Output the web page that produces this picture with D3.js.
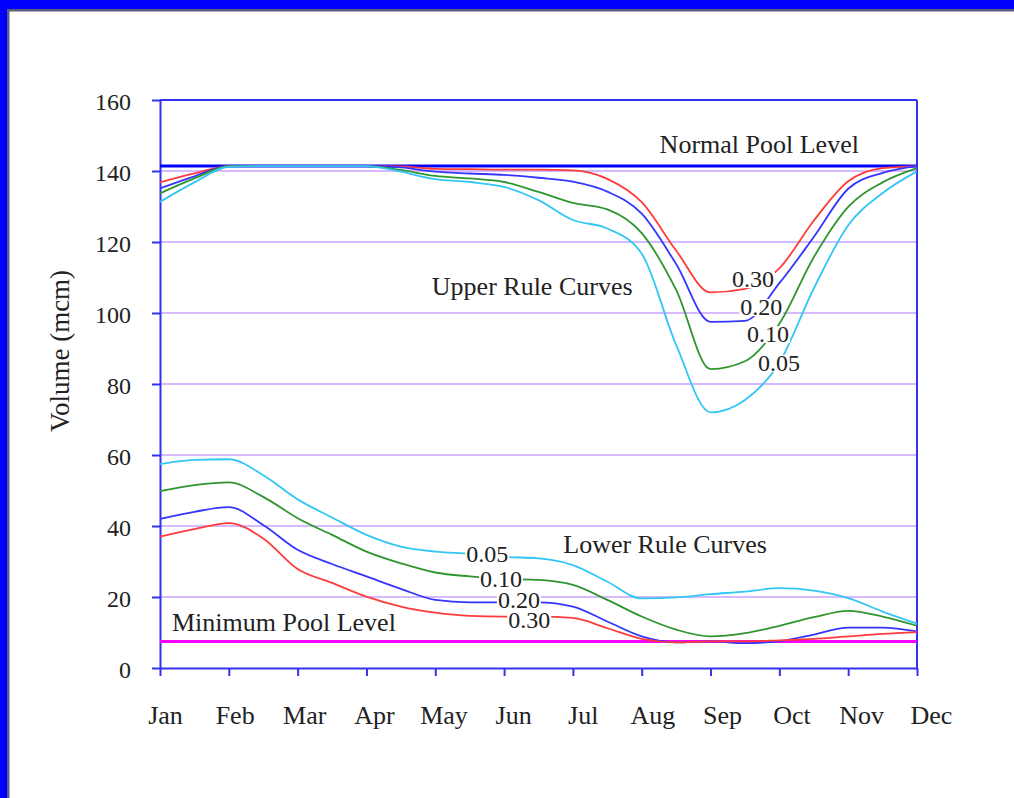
<!DOCTYPE html>
<html>
<head>
<meta charset="utf-8">
<script src="https://cdn.jsdelivr.net/npm/d3@7"></script>
<style>
  body { margin: 0; background: #fff; overflow: hidden; }
  svg { display: block; }
  text { font-family: "Liberation Serif", "Times New Roman", serif; fill: #222; }
</style>
</head>
<body>
<div id="chart"></div>
<script>
// rule curve data (volume in mcm), sampled every half month
const months = ["Jan", "Feb", "Mar", "Apr", "May", "Jun", "Jul", "Aug", "Sep", "Oct", "Nov", "Dec"];
const steps = [0, 0.5, 1, 1.5, 2, 2.5, 3, 3.5, 4, 4.5, 5, 5.5, 6, 6.5, 7, 7.5, 8, 8.5, 9, 9.5, 10, 10.5, 11];
const yTicks = [0, 20, 40, 60, 80, 100, 120, 140, 160];

const normalPool = 141.4;
const minPool = 7.5;

// upper rule curves
const upper030 = [136.8, 139.3, 141.4, 141.4, 141.4, 141.4, 141.4, 141.3, 140.6, 140.5, 140.4, 140.4, 140.2, 137.8, 131.2, 117.6, 105.8, 106.8, 112.6, 126, 137.1, 140.8, 141.4];
const upper020 = [135.1, 138.5, 141.4, 141.4, 141.4, 141.4, 141.4, 141, 139.8, 139.3, 138.9, 138.1, 137, 134.2, 128, 113.8, 97.5, 97.8, 108.4, 121.4, 135, 139.5, 141.4];
const upper010 = [133.7, 137.9, 141.4, 141.4, 141.4, 141.4, 141.4, 140.3, 138.6, 137.9, 136.9, 134.1, 131, 129.2, 122.5, 106.5, 84.2, 86.4, 97, 115.7, 129.9, 136.8, 140.8];
const upper005 = [131.3, 136.8, 141.2, 141.4, 141.4, 141.4, 141.4, 139.8, 137.7, 136.9, 135.5, 131.8, 126.2, 123.8, 116.7, 91, 72, 75.5, 86, 106.9, 124.7, 133.8, 139.9];

// lower rule curves
const lower005 = [57.4, 58.6, 58.8, 54.3, 47.5, 42.4, 37.5, 34.2, 32.8, 32.2, 31.3, 30.9, 29, 24.3, 19.6, 19.9, 20.8, 21.5, 22.5, 21.8, 19.7, 15.9, 12.5];
const lower010 = [49.8, 51.5, 52.3, 48.2, 42.2, 37.5, 32.8, 29.5, 26.9, 25.8, 25.1, 24.8, 23.4, 19.2, 14.5, 10.8, 8.9, 9.8, 11.9, 14.3, 16.1, 14.5, 11.9];
const lower020 = [42, 44, 45.3, 40.3, 33.3, 29.3, 25.8, 22.3, 19.2, 18.5, 18.5, 18.5, 17.3, 13.1, 8.9, 7.2, 7.5, 7, 7.5, 9.4, 11.4, 11.4, 10.3];
const lower030 = [37, 39.1, 40.8, 36.5, 27.9, 24, 20.1, 17.3, 15.6, 14.7, 14.5, 14.5, 14.1, 11.2, 8.2, 7.2, 7.5, 7.5, 7.8, 8.2, 8.9, 9.6, 10.1];

const series = [
  {values: upper030, color: "#ff3b3b"},
  {values: upper020, color: "#3535ff"},
  {values: upper010, color: "#2f962f"},
  {values: upper005, color: "#33c6f4"},
  {values: lower005, color: "#33c6f4"},
  {values: lower010, color: "#2f962f"},
  {values: lower020, color: "#3535ff"},
  {values: lower030, color: "#ff3b3b"}
];

// labels on the curves: [month position, value at baseline, text]
const upperLabels = [[8.31, 107.3, "0.30"], [8.43, 99.4, "0.20"], [8.53, 91.8, "0.10"], [8.69, 83.7, "0.05"]];
const lowerLabels = [[4.45, 29.9, "0.05"], [4.65, 22.8, "0.10"], [4.91, 16.9, "0.20"], [5.06, 11.3, "0.30"]];

const W = 1014, H = 798;
const margin = {top: 100, right: 97, bottom: 130, left: 160},
    width = W - margin.left - margin.right,
    height = H - margin.top - margin.bottom;

const svg = d3.select("#chart")
  .append("svg")
    .attr("width", W)
    .attr("height", H);

// window frame (top and left only)
svg.append("rect").attr("x", 0).attr("y", 0).attr("width", W).attr("height", 9).attr("fill", "#0000ff");
svg.append("rect").attr("x", 0).attr("y", 0).attr("width", 7).attr("height", H).attr("fill", "#0000ff");
svg.append("rect").attr("x", 7).attr("y", 9).attr("width", W).attr("height", 2.5).attr("fill", "#5c5c7a");
svg.append("rect").attr("x", 7).attr("y", 9).attr("width", 2.5).attr("height", H).attr("fill", "#5c5c7a");

const g = svg.append("g")
  .attr("transform", "translate(" + margin.left + "," + margin.top + ")");

const x = d3.scaleLinear().domain([0, 11]).range([0, width]);
const y = d3.scaleLinear().domain([0, 160]).range([height, 0]);

// gridlines
g.selectAll(".grid")
  .data(yTicks.filter(d => d > 0 && d < 160))
  .enter().append("line")
    .attr("x1", 0).attr("x2", width)
    .attr("y1", d => y(d)).attr("y2", d => y(d))
    .attr("stroke", "#caa2ff")
    .attr("stroke-width", 1.6);

// axes
const axisColor = "#3333ee";
const xAxis = g.append("g")
  .attr("transform", "translate(0," + height + ")")
  .call(d3.axisBottom(x).tickValues(d3.range(12)).tickFormat(i => months[i]).tickSize(8).tickSizeOuter(0));
xAxis.selectAll("text")
  .attr("y", 38)
  .attr("x", (d, i) => 5 + i * 0.8)
  .style("font-size", "26px").style("fill", "#222");

const yAxis = g.append("g")
  .call(d3.axisLeft(y).tickValues(yTicks).tickSize(8).tickSizeOuter(0));
yAxis.selectAll("text").attr("x", -29).attr("dy", "0.4em").style("font-size", "24px").style("fill", "#222");

[xAxis, yAxis].forEach(a => {
  a.selectAll("line, path").attr("stroke", axisColor).attr("stroke-width", 2);
  a.style("font-family", '"Liberation Serif", "Times New Roman", serif');
});

// top and right border of the plot
g.append("line").attr("x1", 0).attr("x2", width).attr("y1", y(160)).attr("y2", y(160))
  .attr("stroke", axisColor).attr("stroke-width", 2);
g.append("line").attr("x1", width).attr("x2", width).attr("y1", 0).attr("y2", height)
  .attr("stroke", axisColor).attr("stroke-width", 2);

// pool levels
g.append("line").attr("x1", 0).attr("x2", width).attr("y1", y(normalPool)).attr("y2", y(normalPool))
  .attr("stroke", "#0000ff").attr("stroke-width", 3);
g.append("line").attr("x1", 0).attr("x2", width).attr("y1", y(minPool)).attr("y2", y(minPool))
  .attr("stroke", "#ff00ff").attr("stroke-width", 3);

// rule curves
const line = d3.line()
  .x((d, i) => x(steps[i]))
  .y(d => y(d))
  .curve(d3.curveMonotoneX);

g.selectAll(".curve")
  .data(series)
  .enter().append("path")
    .attr("d", d => line(d.values))
    .attr("fill", "none")
    .attr("stroke", d => d.color)
    .attr("stroke-width", 1.8);

// curve labels with white background
function curveLabel(p) {
  const t = g.append("text")
    .attr("x", x(p[0]))
    .attr("y", y(p[1]))
    .style("font-size", "24px")
    .text(p[2]);
  const b = t.node().getBBox();
  g.insert("rect", () => t.node())
    .attr("x", b.x - 1).attr("y", b.y + 5)
    .attr("width", b.width + 2).attr("height", b.height - 9)
    .attr("fill", "#fff");
}
upperLabels.forEach(curveLabel);
lowerLabels.forEach(curveLabel);

// text annotations
const notes = [
  [x(7.26), y(normalPool) - 13, "Normal Pool Level"],
  [x(3.95), 195, "Upper Rule Curves"],
  [x(5.86), 453, "Lower Rule Curves"],
  [12, y(minPool) - 10, "Minimum Pool Level"]
];
notes.forEach(n => {
  g.append("text").attr("x", n[0]).attr("y", n[1]).style("font-size", "26px").text(n[2]);
});

// y axis title
svg.append("text")
  .attr("transform", "translate(69,351) rotate(-90)")
  .attr("text-anchor", "middle")
  .style("font-size", "27px")
  .text("Volume (mcm)");
</script>
</body>
</html>
